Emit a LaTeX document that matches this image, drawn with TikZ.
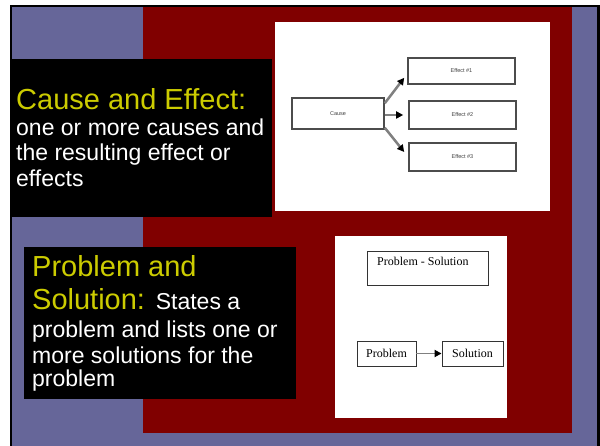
\documentclass[tikz,border=0pt]{standalone}
\usepackage{fontspec}
\setmainfont{Liberation Sans}
\newfontfamily\imgserif{Liberation Serif}
\usetikzlibrary{arrows.meta,positioning}

\definecolor{slideblue}{HTML}{666699}
\definecolor{slidered}{HTML}{800000}
\definecolor{slideyellow}{HTML}{CCCC00}

\begin{document}
\begin{tikzpicture}[
      x=1pt, y=-1pt,
      heading/.style={anchor=base west, inner sep=0pt, text=slideyellow,
                      font=\fontsize{29}{33}\selectfont},
      body/.style={anchor=base west, inner sep=0pt, text=white,
                   font=\fontsize{23}{25}\selectfont},
      cebox/.style={rectangle, draw=gray!60!black, line width=1.6pt, fill=white,
                    inner sep=0pt, font=\fontsize{5.5}{6}\selectfont, text=gray!50!black},
      psbox/.style={rectangle, draw=gray!40!black, line width=0.9pt, fill=white,
                    inner sep=0pt, font=\imgserif\fontsize{12}{14}\selectfont},
      arr/.style={-{Triangle[length=7pt, width=7pt, color=black]},
                  draw=gray, line width=2.5pt},
    ]

    % Slide background
    \useasboundingbox (0,0) rectangle (600,446);
    \fill[white] (0,0) rectangle (600,446);
    \fill[black] (10,5) rectangle (600,446);
    \fill[slideblue] (12,7) rectangle (597,446);
    \fill[slidered] (143,7) rectangle (572,433);

    % Text panels
    \fill[black] (12,59) rectangle (272,217);
    \fill[black] (24,247) rectangle (296,399);

    % Picture panels
    \fill[white] (275,22) rectangle (550,211);
    \fill[white] (335,236) rectangle (507,418);

    % Panel 1: Cause and Effect
    \node[heading] (cetitle) at (16,110) {Cause and Effect:};
    \node[body] (ce1) at (16,136) {one or more causes and};
    \node[body] (ce2) at (16,161) {the resulting effect or};
    \node[body] (ce3) at (16,187) {effects};

    % Panel 2: Problem and Solution
    \node[heading] (pstitle) at (32,277) {Problem and};
    \node[heading] (pstitleb) at (32,310)
      {Solution: {\color{white}\fontsize{23}{25}\selectfont States a}};
    \node[body] (ps1) at (32,338) {problem and lists one or};
    \node[body] (ps2) at (32,363) {more solutions for the};
    \node[body] (ps3) at (32,387) {problem};

    % Cause and effect chart
    \node[cebox, minimum width=92pt, minimum height=31pt] (cause) at (338,113.5) {Cause};
    \node[cebox, minimum width=107pt, minimum height=26pt] (eff1) at (461.5,71) {Effect \#1};
    \node[cebox, minimum width=107pt, minimum height=28pt] (eff2) at (462.5,115) {Effect \#2};
    \node[cebox, minimum width=107pt, minimum height=28pt] (eff3) at (462.5,157) {Effect \#3};

    \draw[arr] ([shift={(0,6)}]cause.north east) -- ([shift={(-3,-7)}]eff1.south west);
    \draw[arr] ([shift={(0,1.5)}]cause.east) -- ([shift={(-5,0)}]eff2.west);
    \draw[arr] ([shift={(0,-2)}]cause.south east) -- ([shift={(-4,-5)}]eff3.west);

    % Problem - solution chart
    \node[psbox, minimum width=121pt, minimum height=34pt] (psframe) at (427.5,268) {};
    \node[anchor=base west, inner sep=0pt, font=\imgserif\fontsize{12}{14}\selectfont]
      (pslabel) at (377,266) {Problem - Solution};
    \node[psbox, minimum width=59pt, minimum height=25pt] (prob) at (386.5,353.5) {Problem};
    \node[psbox, minimum width=61pt, minimum height=25pt] (sol) at (472.5,353.5) {Solution};

    \draw[arr, line width=1.8pt] (prob) -- (sol);

\end{tikzpicture}
\end{document}
